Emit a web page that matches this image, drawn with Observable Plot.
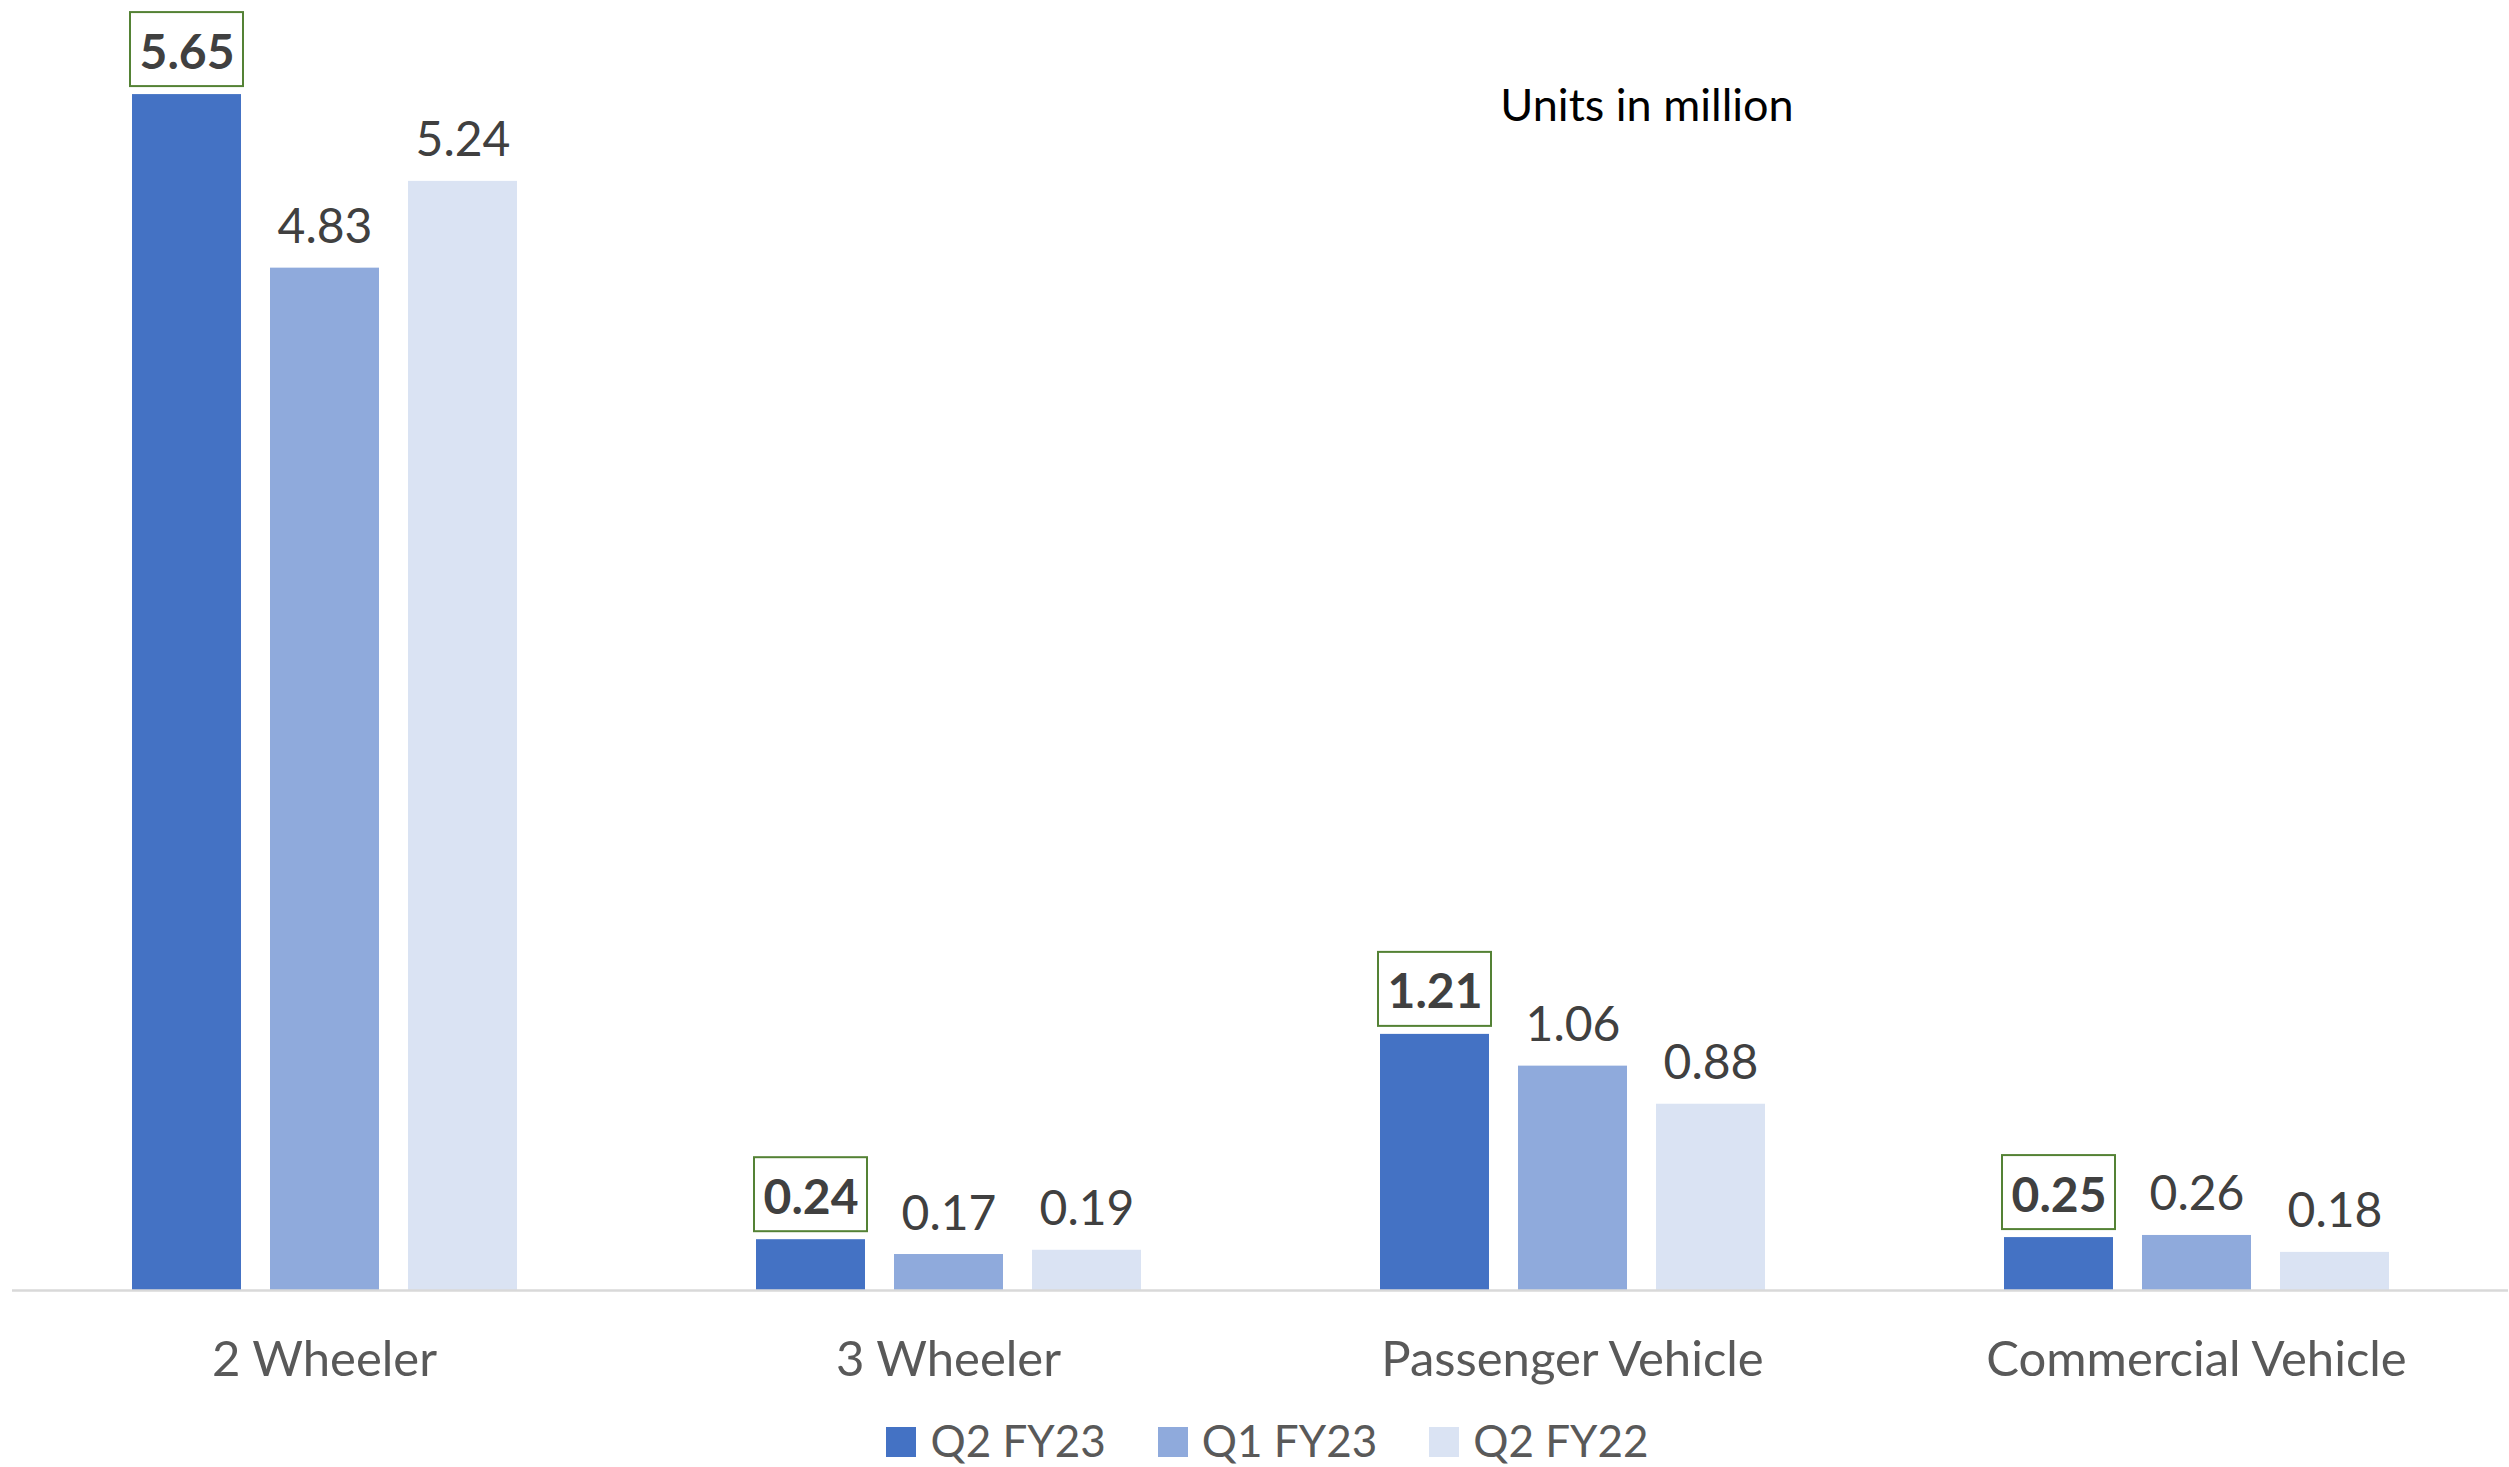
<!DOCTYPE html>
<html><head><meta charset="utf-8">
<script src="https://cdn.jsdelivr.net/npm/d3@7"></script>
<script src="https://cdn.jsdelivr.net/npm/@observablehq/plot@0.6"></script>
<style>
body{margin:0;background:#fff;font-family:Lato,sans-serif;}
#wrap{position:relative;width:2509px;height:1467px;overflow:hidden;}
#units{position:absolute;left:1647px;top:82px;transform:translateX(-50%);font-size:45px;line-height:1;color:#000;white-space:nowrap;}
#legend{position:absolute;left:0;top:1418px;width:2509px;box-sizing:border-box;padding-left:26px;display:flex;justify-content:center;align-items:flex-start;font-size:44px;line-height:44px;height:44px;color:#595959;}
#legend .item{display:flex;align-items:flex-start;margin:0 26px;}
#legend .sw{width:30px;height:30px;margin-top:9px;margin-right:14px;}
</style></head>
<body><div id="wrap"><div id="chart"></div><div id="units">Units in million</div><div id="legend"></div></div>
<script>
const categories = ["2 Wheeler", "3 Wheeler", "Passenger Vehicle", "Commercial Vehicle"];
const series = ["Q2 FY23", "Q1 FY23", "Q2 FY22"];
const q2fy23 = [5.65, 0.24, 1.21, 0.25];
const q1fy23 = [4.83, 0.17, 1.06, 0.26];
const q2fy22 = [5.24, 0.19, 0.88, 0.18];
const colors = ["#4472C4", "#8FAADC", "#DAE3F3"];

const values = [q2fy23, q1fy23, q2fy22];
const data = categories.flatMap((c, i) => series.map((s, j) => ({category: c, series: s, value: values[j][i]})));
const highlight = series[0];
const hi = data.filter(d => d.series === highlight);
const rest = data.filter(d => d.series !== highlight);

const plot = Plot.plot({
  width: 2509, height: 1400,
  marginLeft: 11, marginRight: 0, marginTop: 20, marginBottom: 110,
  style: {fontFamily: "Lato, sans-serif", fontSize: "48px", background: "#fff", overflow: "visible"},
  fx: {domain: categories, padding: 0, label: null},
  x: {domain: series, paddingInner: 0.213, paddingOuter: 0.863, axis: null},
  y: {domain: [0, 6], axis: null},
  color: {domain: series, range: colors},
  marks: [
    Plot.barY(data, {fx: "category", x: "series", y: "value", fill: "series"}),
    Plot.ruleY([0], {stroke: "#d9d9d9", strokeWidth: 2.5}),
    Plot.barY(hi, {fx: "category", x: "series", y1: "value", y2: "value", fill: "none", stroke: "#548235", strokeWidth: 2, insetTop: -82, insetBottom: 8, insetLeft: -2, insetRight: -2}),
    Plot.text(hi, {fx: "category", x: "series", y: "value", text: d => d.value.toFixed(2), lineAnchor: "bottom", dy: -26, fill: "#404040", fontWeight: "bold", fontSize: 48}),
    Plot.text(rest, {fx: "category", x: "series", y: "value", text: d => d.value.toFixed(2), lineAnchor: "bottom", dy: -25, fill: "#404040", fontSize: 48}),
    Plot.axisFx({anchor: "bottom", tickSize: 0, tickPadding: 51, label: null, color: "#595959", fontSize: 49})
  ]
});
document.getElementById("chart").appendChild(plot);

const legend = document.getElementById("legend");
series.forEach((s, i) => {
  const item = document.createElement("div");
  item.className = "item";
  const sw = document.createElement("span");
  sw.className = "sw";
  sw.style.background = colors[i];
  const t = document.createElement("span");
  t.textContent = s;
  item.appendChild(sw); item.appendChild(t);
  legend.appendChild(item);
});
</script></body></html>
